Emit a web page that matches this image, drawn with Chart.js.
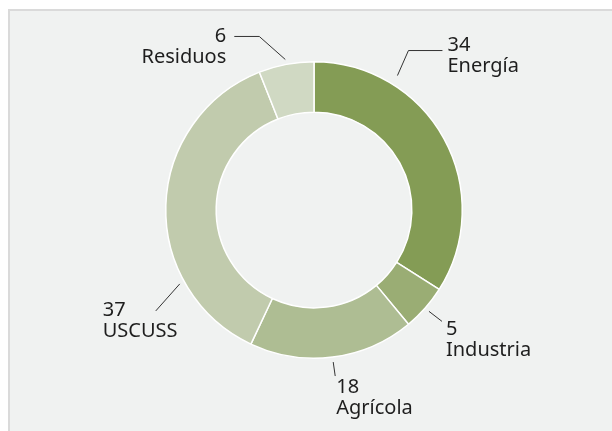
<!DOCTYPE html>
<html>
<head>
<meta charset="utf-8">
<script src="https://cdn.jsdelivr.net/npm/chart.js@4/dist/chart.umd.min.js"></script>
<style>
  html, body { margin: 0; padding: 0; background: #fff; }
  #panel {
    position: absolute; left: 8px; top: 9px; width: 604px; height: 422px;
    background: #f0f2f1; border-top: 2px solid #dadada; border-left: 2px solid #dadada;
    box-sizing: border-box;
  }
  #wrap { position: absolute; left: 0; top: 0; width: 612px; height: 431px; }
</style>
</head>
<body>
<div id="panel"></div>
<div id="wrap"><canvas id="grafico"></canvas></div>
<script>
// datos del gráfico
const sectores = ['Energía', 'Industria', 'Agrícola', 'USCUSS', 'Residuos'];
const valores = [34, 5, 18, 37, 6];
const colores = ['#849c55', '#9aad74', '#aebd93', '#c1cbad', '#d0d9c3'];

// ubicación de las etiquetas (posición sobre el arco, separación, quiebre de la línea, texto)
const etiquetas = [
  { frac: 0.26, gap: 10, linea: [[11, -25], [45, -25]], texto: [50, -25], align: 'left' },
  { frac: 0.5, gap: 5, linea: [[13, 10]], texto: [17, 24], align: 'left' },
  { frac: 0.5, gap: 5, linea: [[2, 14]], texto: [3, 31], align: 'left' },
  { frac: 0.27, gap: 5, linea: [[-24, 27]], texto: [-77, 32], align: 'left' },
  { frac: 0.5, gap: 5, linea: [[-26, -23], [-51, -23]], texto: [-59, -17], align: 'right' }
];

const pluginEtiquetas = {
  id: 'etiquetas',
  afterDatasetsDraw(chart) {
    const ctx = chart.ctx;
    const arcos = chart.getDatasetMeta(0).data;
    ctx.save();
    ctx.font = '20px "Noto Sans", sans-serif';
    ctx.fillStyle = '#1e1e1e';
    ctx.strokeStyle = '#333';
    ctx.lineWidth = 1;
    arcos.forEach((arco, i) => {
      const p = arco.getProps(['x', 'y', 'startAngle', 'endAngle', 'outerRadius']);
      const e = etiquetas[i];
      const ang = p.startAngle + (p.endAngle - p.startAngle) * e.frac;
      const r = p.outerRadius + e.gap;
      const x0 = p.x + Math.cos(ang) * r;
      const y0 = p.y + Math.sin(ang) * r;
      ctx.beginPath();
      ctx.moveTo(x0, y0);
      e.linea.forEach(([dx, dy]) => ctx.lineTo(x0 + dx, y0 + dy));
      ctx.stroke();
      ctx.textAlign = e.align;
      ctx.textBaseline = 'alphabetic';
      const tx = x0 + e.texto[0];
      const ty = y0 + e.texto[1];
      ctx.fillText(String(valores[i]), tx, ty);
      ctx.fillText(sectores[i], tx, ty + 21);
    });
    ctx.restore();
  }
};

new Chart(document.getElementById('grafico'), {
  type: 'doughnut',
  data: {
    labels: sectores,
    datasets: [{
      data: valores,
      backgroundColor: colores,
      borderColor: '#ffffff',
      borderWidth: 1.5
    }]
  },
  options: {
    responsive: true,
    maintainAspectRatio: false,
    animation: false,
    cutout: '66%',
    layout: { padding: { left: 165, right: 149, top: 61, bottom: 72 } },
    plugins: {
      legend: { display: false },
      tooltip: { enabled: false }
    }
  },
  plugins: [pluginEtiquetas]
});
</script>
</body>
</html>
